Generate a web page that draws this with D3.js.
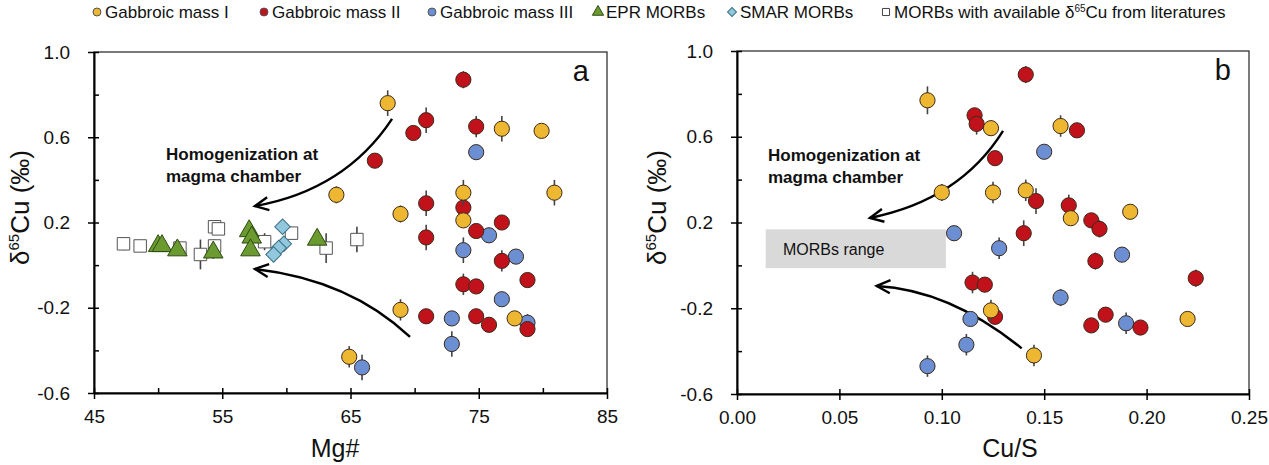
<!DOCTYPE html>
<html><head><meta charset="utf-8">
<script src="https://cdn.jsdelivr.net/npm/d3@7"></script>
<style>body{margin:0;background:#fff} svg{display:block} text{font-family:Arial,"Liberation Sans",sans-serif}</style>
</head><body><svg id="c" width="1269" height="465"></svg>
<script>
// ---------- data: [x, δ65Cu, error] ----------
// Panel a (x = Mg#)
const massI_A = [[67.9,0.76,0.06],[76.8,0.64,0.06],[79.9,0.63,0.03],[63.9,0.33,0.04],[73.8,0.34,0.06],[80.9,0.34,0.06],[68.9,0.24,0.04],[73.8,0.21,0.03],[68.9,-0.21,0.05],[77.8,-0.25,0.03],[64.9,-0.43,0.05]];
const massII_A = [[73.8,0.87,0.04],[70.9,0.68,0.06],[69.9,0.62,0.03],[74.8,0.65,0.05],[66.9,0.49,0.03],[70.9,0.29,0.06],[73.8,0.27,0.04],[76.8,0.20,0.03],[74.8,0.16,0.03],[70.9,0.13,0.06],[76.8,0.02,0.05],[78.8,-0.07,0.03],[73.8,-0.09,0.05],[74.8,-0.10,0.03],[70.9,-0.24,0.03],[74.8,-0.24,0.03],[75.8,-0.28,0.03],[78.8,-0.30,0.03]];
const massIII_A = [[74.8,0.53,0.03],[75.8,0.14,0.03],[73.8,0.07,0.06],[77.9,0.04,0.03],[76.8,-0.16,0.03],[72.9,-0.25,0.03],[78.8,-0.27,0.04],[72.9,-0.37,0.06],[65.9,-0.48,0.06]];
const eprA = [[50.0,0.09,0.02],[50.3,0.09,0.02],[51.5,0.07,0.02],[54.3,0.06,0.03],[57.1,0.16,0.03],[57.3,0.13,0.02],[57.2,0.07,0.02],[62.4,0.12,0.02]];
const smarA = [[59.7,0.18,0.02],[59.8,0.10,0.02],[59.4,0.08,0.02],[59.0,0.05,0.02]];
const litA = [[47.3,0.10,0.03],[48.6,0.09,0.02],[51.7,0.08,0.02],[54.4,0.18,0.03],[54.7,0.17,0.02],[53.3,0.05,0.07],[54.4,0.09,0.03],[58.3,0.11,0.04],[60.4,0.15,0.03],[63.1,0.08,0.07],[65.5,0.12,0.06]];
// Panel b (x = Cu/S)
const massI_B = [[0.093,0.77,0.065],[0.124,0.64,0.03],[0.158,0.65,0.05],[0.100,0.34,0.04],[0.125,0.34,0.05],[0.141,0.35,0.05],[0.163,0.22,0.03],[0.192,0.25,0.03],[0.124,-0.21,0.05],[0.145,-0.42,0.05],[0.220,-0.25,0.03]];
const massII_B = [[0.141,0.89,0.04],[0.116,0.70,0.03],[0.117,0.66,0.05],[0.126,0.50,0.03],[0.146,0.30,0.06],[0.162,0.28,0.05],[0.173,0.21,0.03],[0.177,0.17,0.04],[0.140,0.15,0.06],[0.175,0.02,0.04],[0.224,-0.06,0.04],[0.115,-0.08,0.05],[0.121,-0.09,0.03],[0.126,-0.24,0.03],[0.173,-0.28,0.03],[0.180,-0.23,0.03],[0.197,-0.29,0.03],[0.166,0.63,0.03]];
const massIII_B = [[0.106,0.15,0.03],[0.128,0.08,0.05],[0.188,0.05,0.03],[0.158,-0.15,0.04],[0.114,-0.25,0.03],[0.112,-0.37,0.05],[0.093,-0.47,0.05],[0.190,-0.27,0.05],[0.150,0.53,0.03]];
const morbRange = {x0:0.014, x1:0.102, y0:-0.013, y1:0.168};
// arrows: [start, control, end] in data units
const arrowsA = [[[68.24,0.686],[64.57,0.352],[57.55,0.277]],[[69.64,-0.337],[64.96,-0.07],[57.55,-0.018]]];
const arrowsB = [[[0.1299,0.627],[0.1089,0.305],[0.0649,0.221]],[[0.139,-0.387],[0.104,-0.115],[0.0682,-0.096]]];
// ticks
const yMajor = [-0.6,-0.2,0.2,0.6,1.0], yMinor = [-0.4,0.0,0.4,0.8];
const xMajorA = [45,55,65,75,85], xMinorA = [50,60,70,80];
const xMajorB = [0,0.05,0.10,0.15,0.20,0.25];
const legendLabels = ["Gabbroic mass I","Gabbroic mass II","Gabbroic mass III","EPR MORBs","SMAR MORBs","MORBs with available δ65Cu from literatures"];

const C = {y:"#EDB731", r:"#C1121C", b:"#6C8FD4", g:"#6A9A30", d:"#92C8DE", w:"#ffffff"};
const svg = d3.select("#c");

const xA = d3.scaleLinear([45,85],[94,607]);
const yA = d3.scaleLinear([-0.6,1.0],[393,52]);
const xB = d3.scaleLinear([0,0.25],[737,1249]);
const yB = d3.scaleLinear([-0.6,1.0],[394,51]);

function axes(x, y, xMaj, xMin, xFmt, title, titleX, ylabX, tag) {
  const g = svg.append("g");
  const [x0,x1] = x.range(), [y0,y1] = y.range();
  g.append("rect").attr("x",x0).attr("y",y1).attr("width",x1-x0).attr("height",y0-y1)
    .attr("fill","none").attr("stroke","#333").attr("stroke-width",1.3);
  const la = g.append("g").attr("transform",`translate(${x0},0)`)
    .call(d3.axisLeft(y).tickValues(yMajor).tickSize(6).tickSizeOuter(0).tickPadding(18).tickFormat(d=>d.toFixed(1)));
  la.selectAll(".tick line").attr("x1",5);
  const lm = g.append("g").attr("transform",`translate(${x0},0)`)
    .call(d3.axisLeft(y).tickValues(yMinor).tickSize(-5).tickSizeOuter(0).tickFormat(""));
  lm.select(".domain").remove();
  const ba = g.append("g").attr("transform",`translate(0,${y0})`)
    .call(d3.axisBottom(x).tickValues(xMaj).tickSize(6).tickSizeOuter(0).tickPadding(11).tickFormat(xFmt));
  ba.selectAll(".tick line").attr("y1",-5);
  if (xMin) {
    const bm = g.append("g").attr("transform",`translate(0,${y0})`)
      .call(d3.axisBottom(x).tickValues(xMin).tickSize(-5).tickSizeOuter(0).tickFormat(""));
    bm.select(".domain").remove();
  }
  g.selectAll(".domain").attr("stroke","#000").attr("stroke-width",2);
  g.selectAll(".tick line").attr("stroke","#000").attr("stroke-width",1.5);
  g.selectAll(".tick text").attr("font-size",19).attr("fill","#111").attr("font-family","Arial, Liberation Sans, sans-serif");
  g.append("text").attr("x",titleX).attr("y",457).attr("text-anchor","middle")
    .attr("font-size",25).attr("fill","#111").text(title);
  const yl = g.append("text").attr("transform",`translate(${ylabX},${(y0+y1)/2-15}) rotate(-90)`)
    .attr("text-anchor","middle").attr("font-size",26).attr("fill","#111");
  yl.append("tspan").text("δ");
  yl.append("tspan").attr("font-size",15).attr("dy",-10).text("65");
  yl.append("tspan").attr("dy",10).text("Cu (‰)");
  g.append("text").attr("x",x1-18).attr("y",y1+29).attr("text-anchor","end")
    .attr("font-size",29).attr("fill","#111").text(tag);
}

function errBars(g, data, x, y) {
  g.selectAll(null).data(data).enter().append("line")
    .attr("x1",d=>x(d[0])).attr("x2",d=>x(d[0]))
    .attr("y1",d=>y(d[1]+d[2])).attr("y2",d=>y(d[1]-d[2]))
    .attr("stroke","#444").attr("stroke-width",1.6);
}
function circles(g, data, x, y, fill) {
  errBars(g, data, x, y);
  g.selectAll(null).data(data).enter().append("circle")
    .attr("cx",d=>x(d[0])).attr("cy",d=>y(d[1])).attr("r",7.6)
    .attr("fill",fill).attr("stroke","#3a2a1a").attr("stroke-width",1);
}
function symbols(g, data, x, y, type, size, fill, stroke, rot) {
  errBars(g, data, x, y);
  g.selectAll(null).data(data).enter().append("path")
    .attr("d", d3.symbol().type(type).size(size))
    .attr("transform",d=>`translate(${x(d[0])},${y(d[1])}) rotate(${rot||0})`)
    .attr("fill",fill).attr("stroke",stroke).attr("stroke-width",1);
}
function arrows(g, list, x, y) {
  list.forEach(a => {
    const p = a.map(q => [x(q[0]), y(q[1])]);
    const path = d3.path();
    path.moveTo(p[0][0],p[0][1]);
    path.quadraticCurveTo(p[1][0],p[1][1],p[2][0],p[2][1]);
    g.append("path").attr("d",path.toString()).attr("fill","none").attr("stroke","#000").attr("stroke-width",2.4);
    const ang = Math.atan2(p[2][1]-p[1][1], p[2][0]-p[1][0]);
    const L = 15, w = 0.45;
    const hp = d3.path();
    hp.moveTo(p[2][0]-L*Math.cos(ang-w), p[2][1]-L*Math.sin(ang-w));
    hp.lineTo(p[2][0],p[2][1]);
    hp.lineTo(p[2][0]-L*Math.cos(ang+w), p[2][1]-L*Math.sin(ang+w));
    g.append("path").attr("d",hp.toString()).attr("fill","none").attr("stroke","#000").attr("stroke-width",2.4).attr("stroke-linejoin","miter");
  });
}
function note(g, x, y) {
  const t = g.append("text").attr("font-size",17).attr("font-weight","bold").attr("fill","#111");
  t.append("tspan").attr("x",x).attr("y",y).text("Homogenization at");
  t.append("tspan").attr("x",x).attr("y",y+22).text("magma chamber");
}

// Panel a
axes(xA, yA, xMajorA, xMinorA, d=>d, "Mg#", 335, 29, "a");
const ga = svg.append("g");
arrows(ga, arrowsA, xA, yA);
note(ga, 166, 160);
symbols(ga, litA, xA, yA, d3.symbolSquare, 155, "#fff", "#555");
symbols(ga, eprA, xA, yA, d3.symbolTriangle, 165, C.g, "#2f4a12");
symbols(ga, smarA, xA, yA, d3.symbolSquare, 120, C.d, "#3d6f86", 45);
circles(ga, massIII_A, xA, yA, C.b);
circles(ga, massII_A, xA, yA, C.r);
circles(ga, massI_A, xA, yA, C.y);

// Panel b
axes(xB, yB, xMajorB, null, d=>d.toFixed(2), "Cu/S", 1010, 666, "b");
const gb = svg.append("g");
gb.append("rect").attr("x",xB(morbRange.x0)).attr("y",yB(morbRange.y1))
  .attr("width",xB(morbRange.x1)-xB(morbRange.x0)).attr("height",yB(morbRange.y0)-yB(morbRange.y1))
  .attr("fill","#d9d9d9");
gb.append("text").attr("x",783).attr("y",255).attr("font-size",16).attr("fill","#111").text("MORBs range");
arrows(gb, arrowsB, xB, yB);
note(gb, 768, 161);
circles(gb, massIII_B, xB, yB, C.b);
circles(gb, massII_B, xB, yB, C.r);
circles(gb, massI_B, xB, yB, C.y);

// Legend
const lx = [97, 264, 432, 598, 732, 886];
const lg = svg.append("g");
const ly = 12;
const sym = [
  [d3.symbolCircle, 50, C.y, "#555", 0],
  [d3.symbolCircle, 50, C.r, "#555", 0],
  [d3.symbolCircle, 50, C.b, "#555", 0],
  [d3.symbolTriangle, 55, C.g, "#2f4a12", 0],
  [d3.symbolSquare, 40, C.d, "#3d6f86", 45],
  [d3.symbolSquare, 50, "#fff", "#444", 0]
];
legendLabels.forEach((lab,i) => {
  const s = sym[i];
  lg.append("path").attr("d",d3.symbol().type(s[0]).size(s[1]))
    .attr("transform",`translate(${lx[i]},${ly}) rotate(${s[4]})`)
    .attr("fill",s[2]).attr("stroke",s[3]).attr("stroke-width",1);
  const t = lg.append("text").attr("x",lx[i]+8).attr("y",ly+6).attr("font-size",17).attr("fill","#111");
  if (lab.includes("δ65Cu")) {
    const parts = lab.split("δ65Cu");
    t.append("tspan").text(parts[0] + "δ");
    t.append("tspan").attr("font-size",10).attr("dy",-6).text("65");
    t.append("tspan").attr("dy",6).text("Cu" + parts[1]);
  } else t.text(lab);
});
</script></body></html>
